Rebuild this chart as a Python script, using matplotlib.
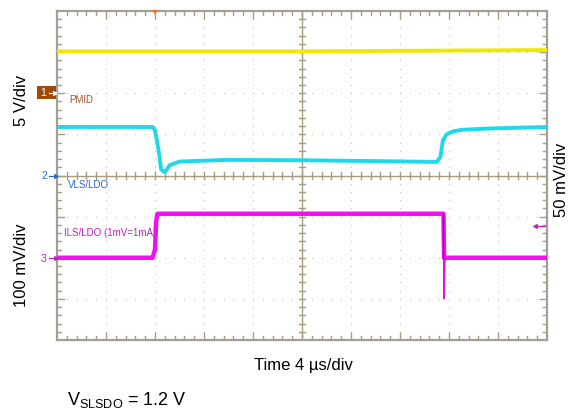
import matplotlib
matplotlib.use("Agg")
import matplotlib.pyplot as plt
from matplotlib.lines import Line2D
import numpy as np

plt.rcParams['font.family'] = ['Liberation Sans', 'DejaVu Sans']
plt.rcParams['mathtext.fontset'] = 'custom'
plt.rcParams['mathtext.rm'] = 'Liberation Sans'

# ---- data (time in us, vertical in screen divisions from bottom) ----
pmid_t = [0, 20, 40]
pmid_v = [7.02, 7.02, 7.05]

vls_t = [0, 7.8, 8.0, 8.3, 8.5, 8.8, 9.2, 10.0, 14, 20, 26, 31.0, 31.3, 31.5, 31.8, 32.3, 33.0, 35, 40]
vls_v = [5.18, 5.18, 5.10, 4.60, 4.15, 4.08, 4.25, 4.34, 4.38, 4.37, 4.35, 4.33, 4.45, 4.85, 5.00, 5.07, 5.11, 5.14, 5.18]

ils_t = [0, 7.8, 8.0, 8.1, 8.2, 20, 31.55, 31.6, 31.7, 40]
ils_v = [2.00, 2.00, 2.2, 2.9, 3.07, 3.07, 3.07, 2.00, 2.00, 2.00]

spike_t = [31.55, 31.6, 31.65, 31.75]
spike_v = [3.07, 1.0, 1.9, 2.0]

fig = plt.figure(figsize=(5.71, 4.14), dpi=100)
W, H = 571, 414
L, R, T, B = 57, 547, 12, 341
ax = fig.add_axes([L / W, 1 - B / H, (R - L) / W, (B - T) / H])
ax.set_xlim(0, 40)
ax.set_ylim(0, 8)
ax.set_xticks([]); ax.set_yticks([])
for s in ax.spines.values():
    s.set_color('#a0a094')
    s.set_linewidth(1.6)

grid_c = '#a89c80'
dot_c = '#b4b0a4'
# dotted grid
for k in range(1, 10):
    if k == 5:
        continue
    ys = np.arange(0.2, 8, 0.2)
    ax.scatter(np.full_like(ys, 4 * k), ys, s=0.6, color=dot_c, lw=0, zorder=1)
for k in range(1, 8):
    if k == 4:
        continue
    xs = np.arange(0.8, 40, 0.8)
    ax.scatter(xs, np.full_like(xs, k), s=0.6, color=dot_c, lw=0, zorder=1)

# center lines
ax.axvline(20, color=grid_c, lw=1.0, zorder=1)
ax.axhline(4, color=grid_c, lw=1.0, zorder=1)
dx = 4 / 49 * 4  # 4px in us
dy = 4 / 41.1    # 4px in div
for x in np.arange(0.8, 40, 0.8):
    ax.plot([x, x], [4 - dy * 0.8, 4 + dy * 0.8], color=grid_c, lw=1.0, zorder=1)
for y in np.arange(0.2, 8, 0.2):
    ax.plot([20 - dx * 0.8, 20 + dx * 0.8], [y, y], color=grid_c, lw=1.0, zorder=1)
# frame ticks
for x in np.arange(0.8, 40, 0.8):
    major = abs(x / 4 - round(x / 4)) < 1e-6
    ln = dy * (1.8 if major else 1.0)
    ax.plot([x, x], [0, ln], color=grid_c, lw=1.0, zorder=1)
    ax.plot([x, x], [8, 8 - ln], color=grid_c, lw=1.0, zorder=1)
for y in np.arange(0.2, 8, 0.2):
    major = abs(y - round(y)) < 1e-6
    ln = dx * (1.8 if major else 1.0)
    ax.plot([0, ln], [y, y], color=grid_c, lw=1.0, zorder=1)
    ax.plot([40, 40 - ln], [y, y], color=grid_c, lw=1.0, zorder=1)

# traces
ax.plot(pmid_t, pmid_v, color='#f0e800', lw=2.8, zorder=3)
ax.plot(vls_t, vls_v, color='#20d8e8', lw=2.8, zorder=3)
ax.plot(ils_t, ils_v, color='#f010f0', lw=3.2, zorder=3)
ax.plot(spike_t, spike_v, color='#e010e0', lw=1.1, zorder=3)
ax.plot([31.55, 31.55], [3.07, 2.0], color='#502050', lw=0.8, zorder=4)

# trace labels
ax.text(1.0, 5.86, 'PMID', color='#a0561e', fontsize=7, va='center', ha='left')
ax.text(0.9, 3.8, 'VLS/LDO', color='#2a68c8', fontsize=7, va='center', ha='left')
ax.text(0.6, 2.62, 'ILS/LDO (1mV=1mA)', color='#c020c0', fontsize=7, va='center', ha='left')

# channel markers (figure pixel coords)
def fx(px):
    return px / W
def fy(py):
    return 1 - py / H

def arrow(x0, x1, y, color):
    fig.add_artist(Line2D([fx(x0), fx(x1)], [fy(y), fy(y)], transform=fig.transFigure,
                          color=color, lw=0.9, zorder=6))
    mk = '>' if x1 > x0 else '<'
    fig.add_artist(Line2D([fx(x1)], [fy(y)], transform=fig.transFigure, marker=mk,
                          markersize=2.6, color=color, lw=0, zorder=6))

fig.patches.append(matplotlib.patches.Rectangle((fx(37), fy(100)), 19 / W, 13 / H,
                   transform=fig.transFigure, facecolor='#a04a08', edgecolor='none'))
fig.text(fx(43.5), fy(93.5), '1', color='white', fontsize=7.5, ha='center', va='center')
arrow(48.5, 54.5, 93.5, 'white')
fig.text(fx(44), fy(176.5), '2', color='#2a68c8', fontsize=7.5, ha='center', va='center')
arrow(48.5, 55.5, 176.5, '#2a68c8')
fig.text(fx(44), fy(259), '3', color='#c020c0', fontsize=7.5, ha='center', va='center')
arrow(48.5, 55.5, 259, '#c020c0')
arrow(545, 535, 227, '#c020c0')
# trigger marker
fig.patches.append(matplotlib.patches.Polygon([[fx(152), fy(11)], [fx(158), fy(11)], [fx(155), fy(15)]],
                   closed=True, transform=fig.transFigure, facecolor='#f07020', edgecolor='none', zorder=5))

# axis labels
fig.text(fx(22), fy(100), '5 V/div', rotation=90, fontsize=12, ha='center', va='center')
fig.text(fx(22), fy(265), '100 mV/div', rotation=90, fontsize=12, ha='center', va='center')
fig.text(fx(562), fy(180), '50 mV/div', rotation=90, fontsize=12, ha='center', va='center')
fig.text(fx(303), fy(366), 'Time 4 \u00b5s/div', fontsize=12, ha='center', va='center')
fig.text(fx(67), fy(400), r'$\mathregular{V_{SLSDO}}$ = 1.2 V', fontsize=13, ha='left', va='center')

fig.savefig('out.png', dpi=100)
